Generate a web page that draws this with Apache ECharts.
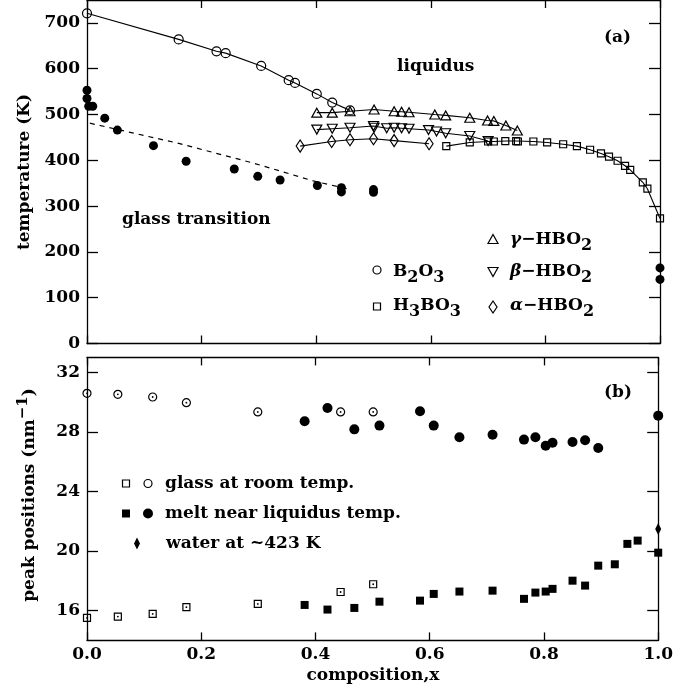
<!DOCTYPE html>
<html>
<head>
<meta charset="utf-8">
<script src="https://cdn.jsdelivr.net/npm/echarts@6/dist/echarts.min.js"></script>
<style>
html, body { margin: 0; padding: 0; background: #fff; }
#chart { width: 676px; height: 689px; }
</style>
</head>
<body>
<div id="chart"></div>
<script>
'use strict';

// (a) liquidus / glass transition, [composition, T(K)]
var b2o3Liq = [[0,721],[0.16,664],[0.226,638],[0.242,634],[0.304,606],[0.352,575],[0.363,569],[0.401,545],[0.428,526],[0.459,509]];
var gammaLiq = [[0.401,504],[0.428,504],[0.459,507],[0.501,511],[0.536,507],[0.549,506],[0.562,505],[0.607,500],[0.626,498],[0.668,493],[0.699,487],[0.710,486],[0.731,476],[0.751,465]];
var betaLiq = [[0.401,467],[0.428,469],[0.459,471],[0.500,475],[0.501,471],[0.523,470],[0.536,471],[0.549,470],[0.562,469],[0.596,466],[0.610,463],[0.626,459],[0.668,453],[0.700,442]];
var alphaLiq = [[0.372,431],[0.427,441],[0.459,445],[0.500,447],[0.536,443],[0.597,436]];
var h3bo3Liq = [[0.627,431],[0.668,439],[0.700,441],[0.710,441],[0.730,442],[0.749,442],[0.752,441],[0.779,441],[0.803,439],[0.831,435],[0.855,431],[0.878,423],[0.897,415],[0.911,408],[0.926,399],[0.939,388],[0.948,379],[0.970,352],[0.978,338],[1.0,273]];
var tgPoints = [[0,553],[0,535],[0.003,518],[0.01,518],[0.031,492],[0.053,466],[0.116,432],[0.173,398],[0.257,381],[0.298,365],[0.337,357],[0.402,345],[0.444,340],[0.444,331],[0.5,336],[0.5,330],[1.0,165],[1.0,140]];
var tgTrend = [[0.005,481],[0.16,437],[0.29,394],[0.395,355],[0.46,336]];

// (b) peak positions (nm^-1)
var glassX = [0,0.054,0.115,0.174,0.299,0.444,0.501];
var glassPeakHi = [30.59,30.52,30.34,29.96,29.34,29.34,29.34];
var glassPeakLo = [15.51,15.6,15.78,16.23,16.45,17.25,17.77];
var meltX = [0.381,0.421,0.468,0.512,0.583,0.607,0.652,0.710,0.765,0.785,0.803,0.815,0.850,0.872,0.895,0.924,0.946,0.964,1.0];
var meltPeakHi = [28.71,29.6,28.17,28.42,29.38,28.42,27.64,27.81,27.48,27.64,27.07,27.27,27.32,27.44,26.92,null,null,null,29.09];
var meltPeakLo = [16.38,16.07,16.18,16.6,16.67,17.12,17.28,17.34,16.79,17.21,17.28,17.46,18.01,17.68,19.02,19.11,20.48,20.7,19.89];
var waterX = [1.0];
var waterPeak = [21.48];

var tempTicks = [0,100,200,300,400,500,600,700];
var peakTicks = [16,20,24,28,32];

function zip(xs, ys) {
    var out = [];
    for (var i = 0; i < xs.length; i++) {
        if (ys[i] != null) out.push([xs[i], ys[i]]);
    }
    return out;
}

var FONT = 'DejaVu Serif';
var labelStyle = { fontFamily: FONT, fontWeight: 'bold', fontSize: 17, color: '#000' };
var lineBlack = { color: '#000', width: 1.3 };
var hollow = { color: 'rgba(0,0,0,0)', borderColor: '#000', borderWidth: 1.2, opacity: 1 };
var solid = { color: '#000', opacity: 1 };

function xAxisCfg(grid, pos, labels) {
    return {
        type: 'value', gridIndex: grid, position: pos, min: 0, max: 1, interval: 0.2,
        axisLine: { onZero: false, lineStyle: lineBlack },
        axisTick: { inside: true, length: 8, lineStyle: lineBlack },
        axisLabel: labels ? Object.assign({ margin: 6, formatter: function(v){ return v.toFixed(1); } }, labelStyle) : { show: false },
        splitLine: { show: false }
    };
}
function yAxisCfg(grid, pos, min, max, ticks, labels) {
    return {
        type: 'value', gridIndex: grid, position: pos, min: min, max: max,
        axisLine: { onZero: false, lineStyle: lineBlack },
        axisTick: { inside: true, length: 11, lineStyle: lineBlack, customValues: ticks },
        axisLabel: labels ? Object.assign({ margin: 7, customValues: ticks }, labelStyle) : { show: false },
        splitLine: { show: false }
    };
}

// 富文本样式：n 正常, s 下标, i 斜体希腊字母
var richSub = {
    n: { fontFamily: FONT, fontWeight: 'bold', fontSize: 17, lineHeight: 18, verticalAlign: 'top', fill: '#000' },
    i: { fontFamily: FONT, fontWeight: 'bold', fontStyle: 'italic', fontSize: 17, lineHeight: 18, verticalAlign: 'top', fill: '#000' },
    s: { fontFamily: FONT, fontWeight: 'bold', fontSize: 16, lineHeight: 30, fill: '#000' }
};
var richSup = {
    n: { fontFamily: FONT, fontWeight: 'bold', fontSize: 17, lineHeight: 18, verticalAlign: 'bottom', fill: '#000' },
    u: { fontFamily: FONT, fontWeight: 'bold', fontSize: 15, lineHeight: 30, fill: '#000' }
};

function label(text, x, y, extra) {
    return Object.assign({
        type: 'text', x: x, y: y,
        style: { text: text, fontFamily: FONT, fontWeight: 'bold', fontSize: 17, fill: '#000', align: 'left', verticalAlign: 'middle' }
    }, extra || {});
}
function richLabel(text, x, y, rich) {
    return { type: 'text', x: x, y: y, style: { text: text, rich: rich, align: 'left', verticalAlign: 'middle' } };
}
var keyStroke = { fill: 'none', stroke: '#000', lineWidth: 1.2 };
function tri(cx, cy, w, h, down) {
    var s = down ? -1 : 1;
    return { type: 'polygon', shape: { points: [[cx - w/2, cy + s*h/2], [cx + w/2, cy + s*h/2], [cx, cy - s*h/2]] }, style: keyStroke };
}
function diamond(cx, cy, w, h, fill) {
    return { type: 'polygon', shape: { points: [[cx, cy - h/2], [cx + w/2, cy], [cx, cy + h/2], [cx - w/2, cy]] },
        style: fill ? { fill: '#000' } : keyStroke };
}

var chart = echarts.init(document.getElementById('chart'));
var option = {
    animation: false,
    backgroundColor: '#fff',
    grid: [
        { left: 87, top: -2, width: 573, height: 345.5 },
        { left: 87, top: 357.4, width: 573, height: 283 }
    ],
    xAxis: [
        xAxisCfg(0, 'bottom', false), xAxisCfg(0, 'top', false),
        xAxisCfg(1, 'bottom', true), xAxisCfg(1, 'top', false)
    ],
    yAxis: [
        yAxisCfg(0, 'left', 0, 750, tempTicks, true), yAxisCfg(0, 'right', 0, 750, tempTicks, false),
        yAxisCfg(1, 'left', 14, 33, peakTicks, true), yAxisCfg(1, 'right', 14, 33, peakTicks, false)
    ],
    series: [
        { type: 'line', xAxisIndex: 0, yAxisIndex: 0, data: tgTrend, symbol: 'none', clip: false,
          lineStyle: { color: '#000', width: 1.2, type: [5, 5] } },
        { type: 'line', xAxisIndex: 0, yAxisIndex: 0, data: b2o3Liq, symbol: 'circle', symbolSize: 9, clip: false,
          itemStyle: hollow, lineStyle: { color: '#000', width: 1.1 } },
        { type: 'line', xAxisIndex: 0, yAxisIndex: 0, data: gammaLiq, symbol: 'triangle', symbolSize: [10, 9], clip: false,
          itemStyle: hollow, lineStyle: { color: '#000', width: 1.1 } },
        { type: 'line', xAxisIndex: 0, yAxisIndex: 0, data: betaLiq, symbol: 'triangle', symbolRotate: 180, symbolSize: [10, 9], clip: false,
          itemStyle: hollow, lineStyle: { color: '#000', width: 1.1 } },
        { type: 'line', xAxisIndex: 0, yAxisIndex: 0, data: alphaLiq, symbol: 'diamond', symbolSize: [8, 12], clip: false,
          itemStyle: hollow, lineStyle: { color: '#000', width: 1.1 } },
        { type: 'line', xAxisIndex: 0, yAxisIndex: 0, data: h3bo3Liq, symbol: 'rect', symbolSize: 7, clip: false,
          itemStyle: hollow, lineStyle: { color: '#000', width: 1.1 } },
        { type: 'scatter', xAxisIndex: 0, yAxisIndex: 0, data: tgPoints, symbol: 'circle', symbolSize: 9, clip: false,
          itemStyle: solid },

        { type: 'scatter', xAxisIndex: 2, yAxisIndex: 2, data: zip(glassX, glassPeakHi), symbol: 'circle', symbolSize: 8, clip: false,
          itemStyle: hollow },
        { type: 'scatter', xAxisIndex: 2, yAxisIndex: 2, data: zip(glassX, glassPeakLo), symbol: 'rect', symbolSize: 7, clip: false,
          itemStyle: hollow },
        { type: 'scatter', xAxisIndex: 2, yAxisIndex: 2, data: zip(glassX, glassPeakHi).concat(zip(glassX, glassPeakLo)),
          symbol: 'circle', symbolSize: 1.8, clip: false, itemStyle: solid },
        { type: 'scatter', xAxisIndex: 2, yAxisIndex: 2, data: zip(meltX, meltPeakHi), symbol: 'circle', symbolSize: 10, clip: false,
          itemStyle: solid },
        { type: 'scatter', xAxisIndex: 2, yAxisIndex: 2, data: zip(meltX, meltPeakLo), symbol: 'rect', symbolSize: 8, clip: false,
          itemStyle: solid },
        { type: 'scatter', xAxisIndex: 2, yAxisIndex: 2, data: zip(waterX, waterPeak), symbol: 'diamond', symbolSize: [6, 12], clip: false,
          itemStyle: solid }
    ],
    graphic: [
        // 坐标轴标题
        { type: 'text', x: 25, y: 172, rotation: Math.PI / 2,
          style: { text: 'temperature (K)', fontFamily: FONT, fontWeight: 'bold', fontSize: 17, fill: '#000', align: 'center', verticalAlign: 'middle' } },
        { type: 'text', x: 23, y: 495, rotation: Math.PI / 2,
          style: { text: '{n|peak positions (nm}{u|\u22121}{n|)}', rich: richSup, align: 'center', verticalAlign: 'middle' } },
        label('composition,x', 373, 676, { style: { text: 'composition,x', fontFamily: FONT, fontWeight: 'bold', fontSize: 17, fill: '#000', align: 'center', verticalAlign: 'middle' } }),

        // 面板注释
        label('(a)', 604, 38),
        label('(b)', 604, 393),
        label('liquidus', 397, 67),
        label('glass transition', 122, 220),

        // (a) 图例
        { type: 'circle', shape: { cx: 377, cy: 270, r: 4 }, style: keyStroke },
        richLabel('{n|B}{s|2}{n|O}{s|3}', 393, 278, richSub),
        { type: 'rect', shape: { x: 373.5, y: 303, width: 7, height: 7 }, style: keyStroke },
        richLabel('{n|H}{s|3}{n|BO}{s|3}', 393, 312, richSub),
        tri(493, 239, 10, 9, false),
        richLabel('{i|\u03b3}{n|\u2212HBO}{s|2}', 510, 246, richSub),
        tri(493, 272, 10, 9, true),
        richLabel('{i|\u03b2}{n|\u2212HBO}{s|2}', 510, 278, richSub),
        diamond(493, 307, 8, 12, false),
        richLabel('{i|\u03b1}{n|\u2212HBO}{s|2}', 510, 312, richSub),

        // (b) 图例
        { type: 'rect', shape: { x: 122.5, y: 480, width: 7, height: 7 }, style: keyStroke },
        { type: 'circle', shape: { cx: 148, cy: 483.5, r: 4 }, style: keyStroke },
        label('glass at room temp.', 165, 484),
        { type: 'rect', shape: { x: 122, y: 509.5, width: 8, height: 8 }, style: { fill: '#000' } },
        { type: 'circle', shape: { cx: 148, cy: 513.5, r: 5 }, style: { fill: '#000' } },
        label('melt near liquidus temp.', 165, 514),
        diamond(137, 543.5, 6, 12, true),
        label('water at ~423 K', 166, 544)
    ]
};
chart.setOption(option);
</script>
</body>
</html>
